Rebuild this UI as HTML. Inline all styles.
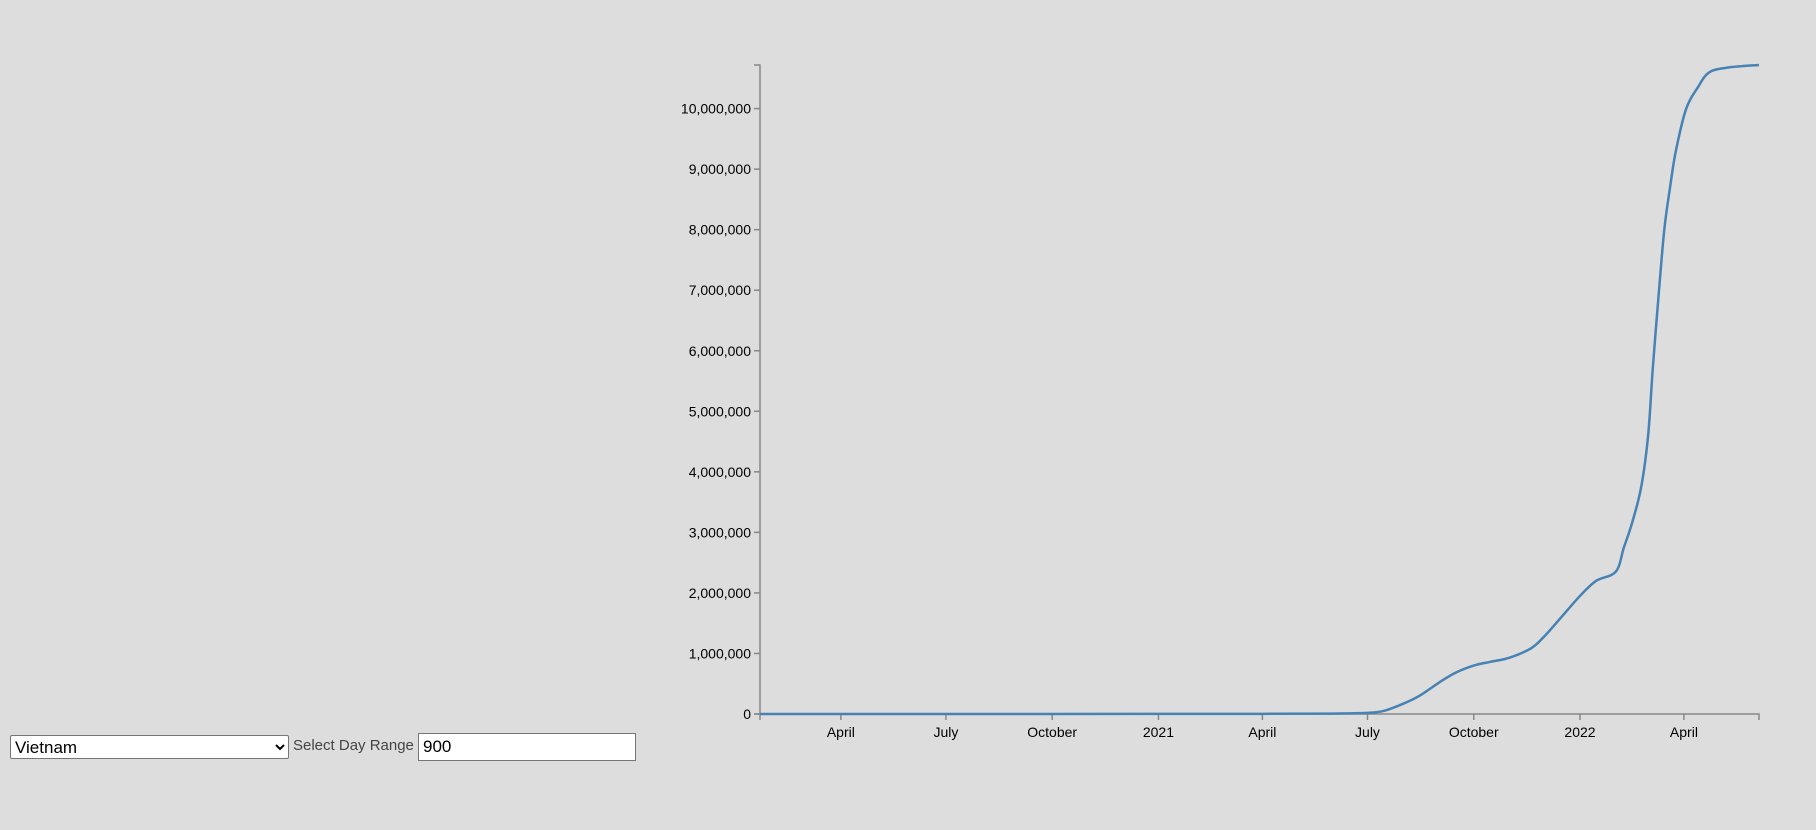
<!DOCTYPE html>
<html><head><meta charset="utf-8">
<style>
html,body{margin:0;padding:0;background:#dddddd;width:1816px;height:830px;overflow:hidden;font-family:"Liberation Sans",Arial,sans-serif}
#chart{position:absolute;left:0;top:0}
select{position:absolute;left:10px;top:735px;width:279px;height:24px;font-size:17px;font-family:"Liberation Sans",sans-serif;background:#fff;border:1px solid #767676;border-radius:2px}
#lbl{position:absolute;left:293px;top:737px;font-size:15px;color:#444}
input{position:absolute;left:418px;top:733px;width:208px;height:24px;font-size:17px;font-family:"Liberation Sans",sans-serif;border:1px solid #767676;padding:1px 4px;box-sizing:content-box}
</style></head><body>
<svg id="chart" width="1816" height="830"></svg>
<select><option>Vietnam</option></select>
<span id="lbl">Select Day Range</span>
<input type="text" value="900">
<script>
const dates=["2020-01-22","2020-06-01","2021-01-01","2021-04-01","2021-06-01","2021-07-01","2021-07-15","2021-08-01","2021-08-15","2021-09-01","2021-09-15","2021-10-01","2021-10-15","2021-11-01","2021-11-20","2021-12-01","2021-12-15","2022-01-01","2022-01-15","2022-02-01","2022-02-08","2022-02-15","2022-02-23","2022-03-01","2022-03-05","2022-03-10","2022-03-15","2022-03-20","2022-03-25","2022-04-03","2022-04-13","2022-04-23","2022-05-10","2022-06-05"];
const cases=[0,300,1500,2700,7000,18000,50000,170000,300000,520000,680000,800000,860000,930000,1090000,1280000,1580000,1950000,2200000,2350000,2750000,3150000,3750000,4600000,5700000,6900000,8000000,8700000,9300000,10000000,10350000,10600000,10680000,10720000];
const xTickDates=["2020-04-01","2020-07-01","2020-10-01","2021-01-01","2021-04-01","2021-07-01","2021-10-01","2022-01-01","2022-04-01"];
const xTickLabels=["April","July","October","2021","April","July","October","2022","April"];
const yTicks=[0,1000000,2000000,3000000,4000000,5000000,6000000,7000000,8000000,9000000,10000000];

const NS="http://www.w3.org/2000/svg";
const svg=document.getElementById('chart');
const X0=760,X1=1759,Y0=714,Y1=65;
const t=d=>Date.parse(d+"T00:00:00Z");
const dMin=t(dates[0]),dMax=t(dates[dates.length-1]);
const yMax=Math.max(...cases);
const xs=d=>X0+(t(d)-dMin)/(dMax-dMin)*(X1-X0);
const ys=v=>Y0-v/yMax*(Y0-Y1);
function el(tag,attrs,txt){const e=document.createElementNS(NS,tag);for(const k in attrs)e.setAttribute(k,attrs[k]);if(txt!=null)e.textContent=txt;svg.appendChild(e);return e;}
let a=el('path',{d:`M${X0-6},${Y1}H${X0}V${Y0}H${X0-6}`,fill:'none',stroke:'#888','stroke-width':1.5});

a=el('path',{d:`M${X0},${Y0+6}V${Y0}H${X1}V${Y0+6}`,fill:'none',stroke:'#888','stroke-width':1.5});

yTicks.forEach(v=>{const y=ys(v);
 const l=el('line',{x1:X0-6,x2:X0,y1:y,y2:y,stroke:'#888','stroke-width':1.5});
 
 const tx=el('text',{x:X0-9,y:y+5,'text-anchor':'end','font-size':14,fill:'#000'},v.toLocaleString('en-US'));
 
});
xTickDates.forEach((d,i)=>{const x=xs(d);
 const l=el('line',{x1:x,x2:x,y1:Y0,y2:Y0+6,stroke:'#888','stroke-width':1.5});
 
 const tx=el('text',{x:x,y:Y0+23,'text-anchor':'middle','font-size':14,fill:'#000'},xTickLabels[i]);
 
});
const pts=dates.map((d,i)=>[xs(d),ys(cases[i])]);
let p=`M${pts[0][0]},${pts[0][1]}`;
for(let i=1;i<pts.length;i++){const p0=pts[Math.max(0,i-2)],p1=pts[i-1],p2=pts[i],p3=pts[Math.min(pts.length-1,i+1)];
 const c1=[p1[0]+(p2[0]-p0[0])/6,p1[1]+(p2[1]-p0[1])/6],c2=[p2[0]-(p3[0]-p1[0])/6,p2[1]-(p3[1]-p1[1])/6];
 c1[1]=Math.min(Math.max(c1[1],Math.min(p1[1],p2[1])),Math.max(p1[1],p2[1]));
 c2[1]=Math.min(Math.max(c2[1],Math.min(p1[1],p2[1])),Math.max(p1[1],p2[1]));
 p+=`C${c1[0]},${c1[1]} ${c2[0]},${c2[1]} ${p2[0]},${p2[1]}`;}
const line=el('path',{d:p,fill:'none',stroke:'steelblue','stroke-width':2.5});


</script>
</body></html>
